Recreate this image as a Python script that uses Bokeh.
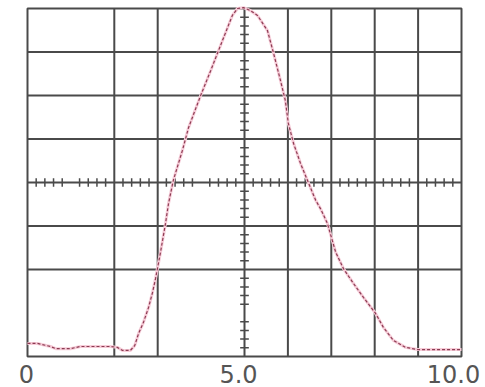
import numpy as np
from bokeh.plotting import figure
from bokeh.models import Range1d, ColumnDataSource
from bokeh.core.properties import value
from bokeh.embed import file_html
from bokeh.resources import INLINE

# Trace (x in divisions 0..10, y in divisions 0..8)
x_vals = [0.00, 0.23, 0.53, 0.65, 0.99, 1.22, 1.45, 1.91, 2.07, 2.19, 2.37, 2.47,
          2.56, 2.67, 2.79, 2.88, 2.95, 3.06, 3.18, 3.25, 3.36, 3.57, 3.71, 3.99,
          4.22, 4.40, 4.72, 4.84, 4.98, 5.14, 5.30, 5.53, 5.67, 5.83, 5.94, 6.01,
          6.13, 6.29, 6.45, 6.64, 6.75, 6.91, 7.10, 7.28, 7.51, 7.74, 8.02, 8.20,
          8.43, 8.71, 8.99, 10.00]
y_vals = [0.30, 0.30, 0.23, 0.18, 0.18, 0.23, 0.23, 0.23, 0.21, 0.14, 0.14, 0.25,
          0.53, 0.78, 1.13, 1.47, 1.79, 2.37, 3.06, 3.52, 4.05, 4.74, 5.26, 6.00,
          6.57, 7.03, 7.84, 8.00, 8.02, 7.95, 7.84, 7.49, 6.97, 6.34, 5.89, 5.36,
          4.90, 4.44, 4.05, 3.59, 3.40, 3.06, 2.40, 2.02, 1.68, 1.36, 0.99, 0.67,
          0.37, 0.21, 0.16, 0.16]

x_tick_values = [0, 5, 10]
x_tick_labels = ["0", "5.0", "10.0"]
v_grid = [2, 3, 5, 6, 7, 8, 9]
h_grid = [2, 3, 4, 5, 6, 7]
X_DIVS, Y_DIVS = 10, 8

GRID = "#4a4a4a"
W, H = 485, 387
LEFT, RIGHT, TOP, BOTTOM = 27, 24, 8, 31
ppu_x = (W - LEFT - RIGHT) / X_DIVS
ppu_y = (H - TOP - BOTTOM) / Y_DIVS

# the frame fills the whole canvas so the tick labels below the graticule are not clipped
p = figure(width=W, height=H, output_backend="svg", toolbar_location=None,
           x_range=Range1d(-LEFT / ppu_x, X_DIVS + RIGHT / ppu_x),
           y_range=Range1d(-BOTTOM / ppu_y, Y_DIVS + TOP / ppu_y),
           x_axis_type=None, y_axis_type=None,
           min_border_left=0, min_border_right=0, min_border_top=0, min_border_bottom=0)
p.outline_line_color = None
p.xgrid.visible = False
p.ygrid.visible = False
p.background_fill_color = "white"
p.border_fill_color = "white"

# graticule
p.segment(x0=v_grid, y0=[0] * len(v_grid), x1=v_grid, y1=[Y_DIVS] * len(v_grid),
          line_color=GRID, line_width=2)
p.segment(x0=[0] * len(h_grid), y0=h_grid, x1=[X_DIVS] * len(h_grid), y1=h_grid,
          line_color=GRID, line_width=2)
p.quad(left=[0], right=[X_DIVS], bottom=[0], top=[Y_DIVS], fill_color=None,
       line_color=GRID, line_width=2)

# centre axes with minor ticks
xc, yc = X_DIVS / 2, Y_DIVS / 2
sub = 0.2
hx = np.array([v for v in np.arange(sub, X_DIVS, sub) if abs(v - round(v)) > 1e-6])
hy = np.array([v for v in np.arange(sub, Y_DIVS, sub) if abs(v - round(v)) > 1e-6])
tl = 0.1
p.segment(x0=hx, y0=yc - tl, x1=hx, y1=yc + tl, line_color=GRID, line_width=1.5)
p.segment(x0=xc - tl, y0=hy, x1=xc + tl, y1=hy, line_color=GRID, line_width=1.5)

# trace
p.line(x_vals, y_vals, line_color="#f6ccd8", line_width=3)
p.line(x_vals, y_vals, line_color="#8c3b52", line_width=1.2, line_dash="3 2")

# tick labels
src = ColumnDataSource(dict(x=x_tick_values, y=[0] * len(x_tick_values),
                            text=x_tick_labels, dx=[-1, -6, -8]))
p.text(x="x", y="y", text="text", x_offset="dx", y_offset=8, source=src,
       text_align="center", text_baseline="top",
       text_font=value("DejaVu Sans"), text_font_size="24px", text_color="#555555")

open("out.html", "w").write(file_html(p, INLINE))
